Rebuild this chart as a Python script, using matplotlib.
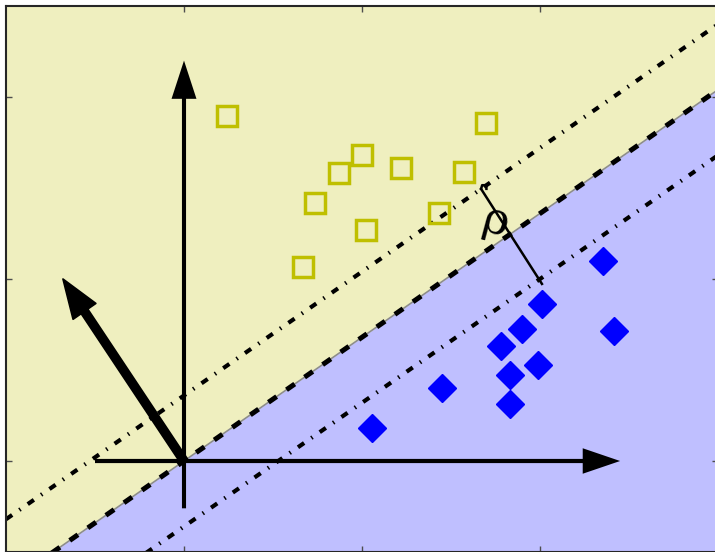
import numpy as np
import matplotlib
matplotlib.use("Agg")
import matplotlib.pyplot as plt
from matplotlib.patches import FancyArrow

# --- data -----------------------------------------------------------------
# class +1 (hollow squares)
squares_x = [0.240, 1.695, 0.998, 0.872, 1.219, 1.573, 0.736, 1.434, 1.022, 0.670]
squares_y = [1.897, 1.855, 1.679, 1.584, 1.612, 1.590, 1.416, 1.361, 1.269, 1.064]

# class -1 (filled diamonds)
diamonds_x = [2.356, 2.010, 1.897, 2.416, 1.781, 1.990, 1.831, 1.451, 1.831, 1.054]
diamonds_y = [1.099, 0.861, 0.725, 0.714, 0.632, 0.527, 0.473, 0.399, 0.313, 0.180]

# separating hyperplane y = slope * x, margins at +/- offset
boundary_slope = 0.68
margin_offset = 0.36
normal_vector = (-0.68, 1.0)

# coordinate axes drawn as arrows (tail, tip)
x_axis_arrow = ((-0.5, 0.0), (2.45, 0.0))
y_axis_arrow = ((0.0, -0.26), (0.0, 2.2))

# margin-width marker (rho)
rho_x = [1.669, 2.011]
rho_y = [1.495, 0.973]
rho_label = "ρ"

xlim = (-1.0, 3.0)
ylim = (-0.5, 2.5)
ticks_x = [0, 1, 2, 3]
ticks_y = [0, 1, 2]

# --- figure ---------------------------------------------------------------
fig = plt.figure(figsize=(7.15, 5.52), dpi=100)
ax = fig.add_axes([6 / 715, 0.0, 712 / 715, 546 / 552])
ax.set_xlim(*xlim)
ax.set_ylim(*ylim)

# shaded half-planes
xs = np.linspace(xlim[0], xlim[1], 200)
yb = boundary_slope * xs
ax.fill_between(xs, yb, ylim[1], color=(239 / 255, 239 / 255, 191 / 255), lw=0, zorder=0)
ax.fill_between(xs, ylim[0], yb, color=(191 / 255, 191 / 255, 255 / 255), lw=0, zorder=0)
ax.plot(xs, yb, color="0.55", lw=1.2, zorder=1)

# hyperplane and margins
ax.plot(xs, yb, color="k", lw=3.6, linestyle=(0, (2.0, 2.4)), zorder=2)
dashdot = (0, (1.8, 2.1, 0.35, 2.1))
ax.plot(xs, yb + margin_offset, color="k", lw=3.0, linestyle=dashdot, zorder=2)
ax.plot(xs, yb - margin_offset, color="k", lw=3.0, linestyle=dashdot, zorder=2)

# coordinate axes
for (tail, tip) in (x_axis_arrow, y_axis_arrow):
    ax.add_patch(FancyArrow(tail[0], tail[1], tip[0] - tail[0], tip[1] - tail[1],
                            width=0.023, head_width=0.14, head_length=0.21,
                            length_includes_head=True, color="k", lw=0, zorder=3))

# normal vector w
ax.add_patch(FancyArrow(0, 0, normal_vector[0], normal_vector[1],
                        width=0.045, head_width=0.155, head_length=0.215,
                        length_includes_head=True, color="k", lw=1.2,
                        joinstyle="round", zorder=3))

# samples
ax.plot(squares_x, squares_y, "s", ms=14.5, mfc="none", mec=(0.75, 0.75, 0.0),
        mew=2.5, zorder=4)
ax.plot(diamonds_x, diamonds_y, "D", ms=14.5, mfc="b", mec="b", mew=1, zorder=4)

# margin width annotation
ax.plot(rho_x, rho_y, color="k", lw=1.8, zorder=5)
dx, dy = 0.03, 0.03 * boundary_slope
ax.plot([rho_x[0], rho_x[0] + 0.006, rho_x[0] + dx, rho_x[0] + dx],
        [rho_y[0], rho_y[0] + dy, rho_y[0] + dy, rho_y[0] + dy - 0.02],
        color="k", lw=1.8, solid_joinstyle="round", zorder=5)
ax.text(1.752, 1.315, rho_label, fontsize=32, family="DejaVu Serif",
        ha="center", va="center", rotation=-15, zorder=5)

# frame and ticks
ax.set_xticks(ticks_x)
ax.set_yticks(ticks_y)
ax.set_xticklabels([])
ax.set_yticklabels([])
ax.tick_params(direction="in", top=True, right=True, length=4.5, width=1, color="0.3")
for s in ax.spines.values():
    s.set_linewidth(1.5)
    s.set_color("0.15")

fig.savefig("out.png", dpi=100)
